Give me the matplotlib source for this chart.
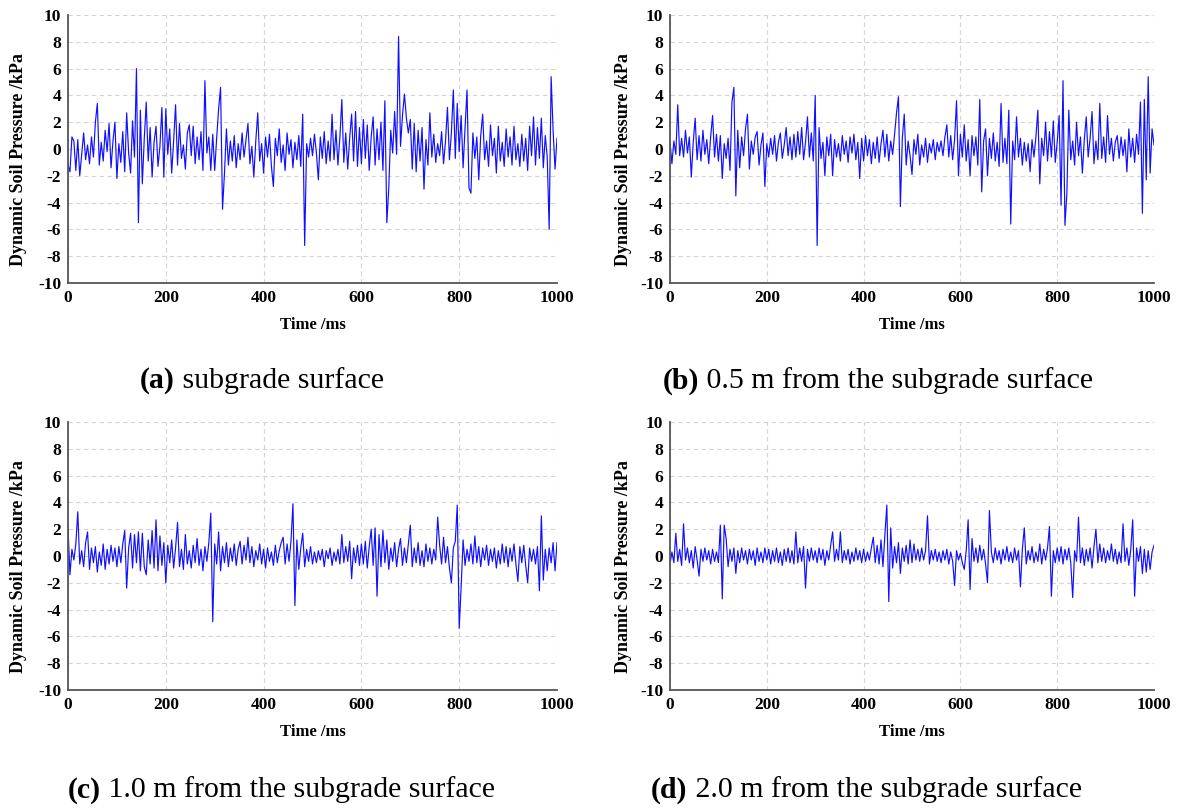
import numpy as np
from matplotlib import pyplot as plt

# time axis, 4 ms step
t = np.arange(0, 1001, 4)

# (a) subgrade surface
p_a = [-1.2, -1.7, 0.9, 0.6, -1.6, 0.7, -2.0, -0.4, 1.2, -0.8, 0.3, -1.1, 0.9, -0.6, 2.0, 3.4, -1.2, 0.5, -0.9, 1.4, -0.2, 1.9, -1.4, 0.6, 2.0,
       -2.2, 0.4, -1.0, 1.3, -1.7, 2.7, -0.3, -1.8, 2.1, -0.6, 6.0, -5.5, 2.9, -2.6, 0.8, 3.5, -0.9, 1.6, -2.1, 0.5, 1.7, -1.3, 0.2, 3.1, -2.1,
       3.0, -0.4, 1.5, -1.8, 0.6, 3.3, -1.2, 1.9, -0.7, 0.3, -1.5, 1.2, 1.8, -0.5, 1.7, -1.1, 0.9, -0.8, 1.3, -1.6, 5.1, -0.3, 0.9, -1.6, 1.1,
       -1.6, 0.8, 3.0, 4.6, -4.5, -1.8, 1.5, -1.2, 0.6, -0.9, 1.0, -1.4, 0.4, -0.8, 1.2, -0.6, 0.7, 1.9, -1.1, 0.2, -2.1, 0.6, 2.7, -0.9, 0.4,
       -1.8, 0.9, -0.6, 1.1, -1.3, -2.8, 0.8, -0.5, 1.5, -1.0, 0.3, -1.6, 1.2, -0.4, 0.7, -1.4, 0.5, -0.8, 1.0, -1.3, 2.6, -7.2, 0.4, -0.6, 0.8,
       -0.5, 1.1, -0.3, -2.3, 0.9, -0.7, 1.3, -1.1, 0.6, -0.9, 2.6, -0.8, 1.4, -1.2, 0.9, 3.7, -1.0, 1.2, -1.5, 0.8, 2.6, -0.9, 2.8, -1.3, 1.6,
       -1.1, 2.2, -0.7, 1.8, -1.6, 0.9, 2.4, -1.2, 1.5, -0.8, 2.0, -1.6, 3.6, -5.5, -2.9, 1.4, -0.3, 2.8, -0.4, 8.4, 0.2, 2.5, 4.1, 2.3, 1.2,
       2.2, -1.5, 1.9, -1.7, 1.4, -0.9, 1.6, -3.0, 0.7, -1.2, 2.7, -0.6, 1.1, -1.0, 0.4, -0.5, 1.3, -1.1, 0.6, 3.1, -0.8, 1.2, 4.4, -0.7, 3.4,
       -0.2, 2.5, -1.4, 1.6, 4.4, -2.9, -3.3, 1.2, -0.7, 0.9, -2.3, 1.0, 2.6, -0.8, 0.6, -1.3, 1.8, -0.5, 0.8, -1.8, 1.7, -0.9, 0.5, -1.3, 1.5,
       -0.6, 0.9, -1.2, 1.7, -0.8, 0.4, -1.3, 1.1, -0.9, 0.8, -1.6, 1.7, -0.5, 2.4, -1.2, 1.6, -0.7, 2.3, -1.4, 1.0, -0.6, -6.0, 5.4, 1.4, -1.5,
       0.8]

# (b) 0.5 m from the subgrade surface
p_b = [0.5, -1.1, 0.6, -0.4, 3.3, -0.5, 0.8, -0.6, 1.4, -0.3, 0.9, -2.1, 0.5, 2.3, -0.8, 1.0, -0.9, 1.4, -0.4, 0.7, -1.1, 0.9, 2.5, -0.6, 1.1,
       -0.9, 1.0, -2.2, 0.4, -0.7, 0.8, -1.6, 3.5, 4.6, -3.5, 1.4, -1.4, 0.9, -0.5, 1.5, 2.6, -1.5, 0.6, -0.4, 0.9, 1.3, -1.2, 0.3, 1.2, -2.8,
       0.4, -0.6, 0.8, -0.4, 1.0, -0.9, 0.5, 1.2, -0.7, 0.3, 1.6, -0.5, 0.9, -0.8, 1.1, -0.6, 1.3, -0.4, 1.6, -0.8, 0.5, 2.4, -0.6, 1.2, -0.9,
       4.0, -7.2, 1.6, -0.7, 0.5, -2.0, 0.9, -0.5, 1.1, -2.0, 0.7, -0.6, 0.4, -0.9, 1.0, -0.4, 0.6, -1.0, 0.9, -0.3, 1.1, -0.8, 0.5, -2.2, 0.8,
       -0.9, 1.0, -0.5, 0.7, -1.1, 0.5, -0.7, 0.9, -1.0, 0.4, 1.4, -0.6, 1.1, -0.9, 0.6, -0.4, 1.1, 2.7, 3.9, -4.3, 0.8, 2.6, -1.2, 0.6, -0.5,
       -1.9, 0.7, -0.4, 1.1, -1.2, 0.3, -0.6, 0.8, -1.0, 0.4, -0.3, 0.7, -0.8, 0.5, -0.2, 0.6, -0.5, 0.9, 1.8, -0.6, 1.0, -0.8, 0.7, 3.6, -2.0,
       1.1, -0.6, 1.8, -0.9, 0.7, -2.0, 1.0, -0.5, 0.9, -1.2, 3.7, -3.2, 0.6, 1.5, -2.0, 0.8, -0.7, 1.2, -0.9, 0.5, -1.3, 3.4, -1.0, 0.8, -1.1,
       2.9, -5.6, 0.6, -0.8, 2.4, -0.6, 0.8, -1.2, 0.5, -0.9, 0.4, -1.7, 0.7, -0.6, 0.9, 2.9, -2.6, 0.8, -0.5, 2.0, -0.9, 1.3, -0.6, 2.1, -1.0,
       0.5, 2.5, -4.2, 5.1, -5.7, -3.3, 2.9, -0.8, 0.6, -1.2, 2.0, -0.5, 0.9, -1.8, 0.7, 2.4, -0.6, 0.8, 2.8, -1.1, 0.6, -0.8, 3.4, -0.7, 0.9,
       -1.0, 2.5, -0.4, 0.8, -0.9, 0.5, 1.0, -0.7, 0.9, -0.5, 0.7, -1.7, 1.5, -0.6, 0.8, -1.0, 1.1, -0.4, 3.5, -4.8, 3.7, -2.3, 5.4, -1.8, 1.5,
       0.3]

# (c) 1.0 m from the subgrade surface
p_c = [2.1, -1.4, 0.5, -0.3, 0.9, 3.3, -0.6, 0.4, -0.8, 1.0, 1.8, -1.0, 0.6, -0.5, 0.7, -1.2, 0.3, -0.7, 0.9, -1.0, 0.5, -0.6, 0.8, -0.4, 0.6,
       -0.8, 0.7, -0.5, 0.9, 1.9, -2.4, 0.6, 1.7, -0.9, 1.6, -0.5, 1.8, -1.1, 1.7, -0.8, -1.4, 1.2, -0.6, 1.9, -0.9, 2.7, -1.1, 1.5, -0.7, 1.0,
       -2.0, 0.8, -0.5, 1.2, -0.9, 0.6, 2.5, -0.8, 0.5, -1.0, 1.6, -0.6, 0.4, -0.9, 0.8, -0.5, 1.3, -0.7, 0.5, -1.1, 0.7, -0.4, 1.0, 3.2, -4.9,
       0.9, -0.6, 1.8, -1.1, 0.7, -0.5, 1.0, -0.8, 0.6, -0.4, 0.9, -0.7, 0.5, 1.1, -0.6, 0.8, -0.3, 1.4, -0.5, 0.7, -0.8, 0.4, -0.3, 0.9, -0.6,
       0.5, -0.9, 0.6, -0.4, 0.3, -0.7, 0.8, -0.5, 0.4, 1.0, 1.4, -0.6, 0.9, -0.4, 1.1, 3.9, -3.7, 1.2, -1.0, 0.6, 1.7, -0.8, 0.5, -0.4, 0.7,
       -0.6, 0.3, -0.5, 0.4, -0.3, 0.5, -0.8, 0.4, -0.2, 0.6, -0.7, 0.3, -0.4, 0.5, -0.6, 1.6, -0.5, 0.7, -0.4, 1.1, -1.7, 0.6, -0.5, 0.8, -0.7,
       0.9, -0.6, 1.1, -0.9, 0.7, 2.0, -0.7, 2.1, -3.0, 1.6, -0.8, 1.9, -0.5, 1.2, -1.0, 0.6, -0.4, 1.0, -0.8, 0.5, 1.3, -0.7, 0.6, -0.5, 0.9,
       2.3, -0.8, 0.6, -0.5, 1.0, -0.7, 0.4, -0.8, 0.9, -0.4, 0.6, -0.6, 0.5, -0.3, 2.9, 0.8, -0.6, 1.4, -0.5, 0.7, -0.9, -2.0, 0.6, 1.1, 3.8,
       -5.4, -2.3, 1.2, -0.7, 0.5, -0.4, 0.9, -0.6, 1.5, -0.5, 0.7, -0.8, 0.6, -0.3, 0.8, -0.7, 0.5, -0.4, 0.6, -0.9, 0.4, -0.6, 0.9, -0.5, 0.7,
       -0.8, 0.6, -0.4, 0.9, -0.6, -1.9, 0.7, -0.5, 0.8, -0.7, -2.0, 0.6, -0.4, 0.5, -0.6, 0.7, -2.6, 3.0, -1.8, 0.5, -1.1, 0.6, -0.5, 1.0, -1.1,
       1.0]

# (d) 2.0 m from the subgrade surface
p_d = [-0.6, 0.3, -0.5, 1.7, -0.4, 0.5, -0.7, 2.4, -0.3, 0.6, -0.5, 0.4, -0.9, 0.7, -0.3, -1.5, 0.5, -0.4, 0.6, -0.3, 0.4, -0.6, 0.5, -0.4, 0.3,
       -0.5, 2.3, -3.2, 2.3, 1.3, -0.8, 0.5, -0.4, 0.6, -1.3, 0.4, -0.5, 0.6, -0.3, 0.4, -0.6, 0.5, -0.3, 0.4, -0.7, 0.6, -0.4, 0.3, -0.5, 0.6,
       -0.3, 0.5, -0.6, 0.4, -0.4, 0.6, -0.5, 0.3, -0.7, 0.5, -0.4, 0.6, -0.5, 0.4, -0.6, 1.8, -0.5, 0.6, -0.4, 0.7, -2.4, 0.5, -0.4, 0.6, -0.3,
       0.4, -0.5, 0.6, -0.3, 0.5, -0.7, 0.4, -0.3, 0.8, 1.8, -0.4, 0.5, -0.3, 1.8, -0.5, 0.4, -0.3, 0.5, -0.6, 0.3, -0.4, 0.6, -0.3, 0.4, -0.5,
       0.5, -0.4, 0.3, -0.3, 0.6, 1.4, -0.5, 0.8, -0.6, 1.2, -0.8, 1.6, 3.8, -3.4, 2.1, -0.9, 0.7, -0.5, 1.0, -1.3, 0.6, -0.4, 0.8, -0.6, 1.2,
       -0.5, 0.9, -0.3, 0.5, -0.4, 0.6, -0.3, 0.4, 3.0, -0.6, 0.4, -0.3, 0.5, -0.4, 0.3, -0.5, 0.4, -0.3, 0.5, -0.6, 0.3, -0.4, -2.2, 0.4, -0.3,
       0.2, -0.5, -1.0, 0.4, 2.7, -2.5, 1.3, -0.4, 0.6, -0.5, 0.8, -0.3, 0.5, -0.6, -2.0, 3.4, 0.3, -0.5, 0.6, -0.3, 0.4, -0.6, 0.5, -0.3, 0.7,
       -0.4, 0.3, -0.5, 0.6, -0.3, 0.4, -2.3, 0.5, 2.1, -0.6, 0.4, -0.3, 0.7, -0.5, 0.3, -0.4, 0.9, -0.6, 0.5, -0.3, 0.6, 2.2, -3.0, 0.4, -0.5,
       0.6, -0.4, 0.7, -0.6, 0.5, -0.3, 0.6, -0.5, -3.1, 0.4, -0.4, 2.9, -0.5, 0.6, -0.7, 0.5, -0.4, 0.6, -0.9, 0.7, 2.0, -0.5, 0.9, -0.4, 0.6,
       -0.5, 0.4, -0.3, 0.9, -0.4, 0.5, -0.6, 0.3, -0.5, 2.4, -0.4, 0.6, -0.7, 0.5, 2.7, -3.0, 0.6, -0.4, 0.7, -1.3, 0.5, -1.2, 0.4, -1.0, 0.3,
       0.8]

series = [p_a, p_b, p_c, p_d]
cap_tags = ['(a)', '(b)', '(c)', '(d)']
cap_texts = [' subgrade surface', ' 0.5 m from the subgrade surface',
             ' 1.0 m from the subgrade surface', ' 2.0 m from the subgrade surface']

plt.rcParams['font.family'] = ['Liberation Serif', 'DejaVu Serif']
plt.rcParams['axes.unicode_minus'] = False

W, H = 1179, 811
fig = plt.figure(figsize=(W / 100, H / 100), dpi=100)

# axes boxes in pixels: left, top, right, bottom
boxes = [(68, 15, 557, 283), (670, 15, 1154, 283),
         (68, 422, 557, 690), (670, 422, 1154, 690)]
# caption start x and centre y in pixels
cap_pos = [(140, 381), (663, 381), (68, 790), (651, 790)]
# y-label centre x in pixels
ylab_x = [18.5, 623.5, 18.5, 623.5]

for k in range(4):
    l, tp, r, b = boxes[k]
    ax = fig.add_axes([l / W, 1 - b / H, (r - l) / W, (b - tp) / H])
    ax.plot(t, series[k], color='#1010ff', lw=0.85)
    ax.set_xlim(0, 1000)
    ax.set_ylim(-10, 10)
    ax.set_xticks(np.arange(0, 1001, 200))
    ax.set_yticks(np.arange(-10, 11, 2))
    ax.grid(True, ls=(0, (4, 3)), color='#d4d4d4', lw=0.8)
    ax.set_axisbelow(True)
    for s in ['top', 'right']:
        ax.spines[s].set_visible(False)
    for s in ['left', 'bottom']:
        ax.spines[s].set_color('#555555')
        ax.spines[s].set_linewidth(1.3)
    ax.tick_params(length=0, labelsize=12.5, pad=5)
    for lab in ax.get_xticklabels() + ax.get_yticklabels():
        lab.set_fontweight('bold')
    ax.set_xlabel('Time /ms', fontsize=12, fontweight='bold', va='center')
    ax.xaxis.set_label_coords(0.5, -42 / (b - tp))
    ax.set_ylabel('Dynamic Soil Pressure /kPa', fontsize=13, fontweight='bold', va='center')
    ax.yaxis.set_label_coords((ylab_x[k] - l) / (r - l), (b - (tp + 145)) / (b - tp))

# captions: bold tag followed by plain text
fig.canvas.draw()
rend = fig.canvas.get_renderer()
for k in range(4):
    x0, y0 = cap_pos[k]
    tag = fig.text(x0 / W, 1 - y0 / H, cap_tags[k], fontsize=21.5, fontweight='bold', va='center')
    ext = tag.get_window_extent(renderer=rend)
    fig.text(ext.x1 / W, 1 - y0 / H, cap_texts[k], fontsize=21.5, va='center')

fig.savefig('out.png', dpi=100)
